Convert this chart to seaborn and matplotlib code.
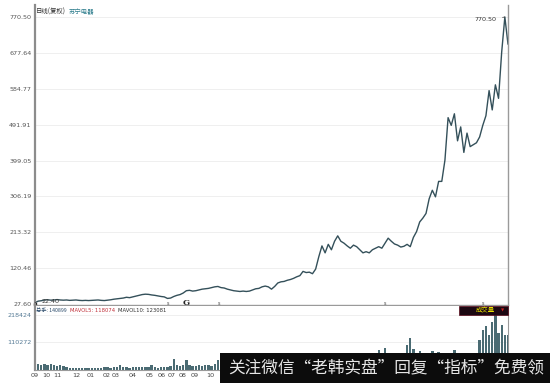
import matplotlib
matplotlib.use("Agg")
import matplotlib.pyplot as plt
import seaborn as sns
import pandas as pd
import numpy as np
from matplotlib.patches import Rectangle

# ---------------- data ----------------
close = [31, 35, 36, 38, 38.5, 37.5, 38, 39, 38, 37.5,
         38, 37, 37.5, 38, 37, 36.5, 37, 36.5, 37, 37.5,
         38, 37, 36.5, 37.5, 38.5, 40, 41, 42, 43, 45,
         44, 46, 48, 50, 52, 53, 52.5, 51, 50, 48.5,
         47, 46, 42, 43, 47, 50, 52, 56, 62, 63,
         61, 62, 64, 66, 67, 68, 70, 72, 73, 70,
         69, 66, 64, 62, 61, 60, 61, 60, 61, 64,
         67, 68, 72, 74, 72, 66, 73, 82, 85, 86,
         89, 91, 94, 98, 101, 112, 109, 110, 106, 118,
         150, 178, 160, 182, 168, 190, 204, 190, 185, 178,
         172, 180, 176, 168, 160, 163, 160, 168, 172, 176,
         172, 185, 198, 190, 183, 180, 175, 177, 182, 176,
         200, 215, 240, 250, 262, 300, 322, 305, 345, 345,
         400, 510, 490, 520, 450, 486, 420, 470, 435, 440,
         445, 460, 490, 515, 580, 530, 595, 560, 680, 770.5,
         700]

volume = [30000, 25000, 22000, 26000, 20000, 24000, 22000, 18000, 20000, 15000,
          12000, 10000, 9000, 8000, 9000, 7000, 8000, 9000, 10000, 8000,
          9000, 10000, 12000, 11000, 10000, 12000, 14000, 22000, 12000, 11000,
          10000, 12000, 11000, 13000, 12000, 14000, 13000, 22000, 12000, 10000,
          11000, 12000, 13000, 18000, 45000, 20000, 18000, 22000, 40000, 20000,
          18000, 16000, 20000, 18000, 22000, 20000, 18000, 26000, 40000, 22000,
          20000, 18000, 20000, 22000, 19000, 18000, 20000, 21000, 22000, 24000,
          26000, 25000, 28000, 30000, 26000, 28000, 32000, 35000, 30000, 28000,
          30000, 32000, 34000, 36000, 38000, 45000, 40000, 38000, 36000, 50000,
          60000, 55000, 50000, 52000, 48000, 55000, 58000, 45000, 40000, 38000,
          36000, 38000, 35000, 32000, 34000, 30000, 32000, 35000, 38000, 80000,
          40000, 90000, 60000, 45000, 42000, 40000, 38000, 45000, 100000, 128000,
          85000, 60000, 78000, 55000, 50000, 60000, 75000, 70000, 72000, 60000,
          65000, 62000, 58000, 80000, 55000, 50000, 52000, 48000, 50000, 45000,
          55000, 120000, 160000, 176000, 140000, 192000, 220000, 150000, 180000, 140000,
          140899]

price_ticks = [27.60, 120.46, 213.32, 306.19, 399.05, 491.91, 584.77, 677.64, 770.50]
vol_ticks = [110272, 218424]
month_pos = [0, 3.5, 7.0, 13.0, 17.8, 22.8, 25.7, 31.1, 36.2, 40.3, 43.4, 46.9, 50.7, 55.5]
month_labels = ["09", "10", "11", "12", "01", "02", "03", "04", "05", "06", "07", "08", "09", "10"]

df = pd.DataFrame({"idx": np.arange(len(close)), "close": close, "volume": volume})

# ---------------- figure ----------------
W, H = 550, 383
fig = plt.figure(figsize=(W / 100, H / 100), dpi=100)
sns.set_style("white")
plt.rcParams["font.family"] = ["DejaVu Sans"]
CJK = ["Noto Sans CJK SC", "DejaVu Sans"]

def rect(l, t, r, b):
    return [l / W, (H - b) / H, (r - l) / W, (b - t) / H]

ax = fig.add_axes(rect(35, 5, 508, 305))
axv = fig.add_axes(rect(35, 306, 508, 370))

line_col = "#34505a"
sns.lineplot(data=df, x="idx", y="close", ax=ax, color=line_col, linewidth=1.0)
ax.set_xlim(0, 150)
ax.set_ylim(25.0, 801.6)
ax.set_yticks(price_ticks)
ax.set_yticklabels([f"{v:.2f}" for v in price_ticks])
ax.set_xticks([])
ax.set_xlabel("")
ax.set_ylabel("")
for v in price_ticks[1:]:
    ax.axhline(v, color="#ececec", lw=0.6, zorder=0)
ax.tick_params(axis="y", labelsize=4.6, colors="#555555", length=1.5, pad=1)
ax.spines["top"].set_visible(False)
ax.spines["left"].set_color("#8c8c8c")
ax.spines["left"].set_linewidth(1.6)
ax.spines["right"].set_color("#9a9a9a")
ax.spines["right"].set_linewidth(1.0)
ax.spines["bottom"].set_color("#9a9a9a")
ax.spines["bottom"].set_linewidth(1.0)

# annotations
ax.annotate("770.50", xy=(149, 770.5), xytext=(-6, -2), textcoords="offset points",
            ha="right", va="center", fontsize=4.6, color="#333333",
            arrowprops=dict(arrowstyle="-", color="#333333", lw=0.5))
ax.annotate("22.40", xy=(0, 31), xytext=(5, 1.0), textcoords="offset points",
            ha="left", va="center", fontsize=4.6, color="#333333",
            arrowprops=dict(arrowstyle="-", color="#333333", lw=0.5))
ax.plot([0], [28], marker="s", ms=2, color="#111111", clip_on=False)
for xi, lab in [(42.3, "s"), (58.3, "s"), (111.0, "s"), (142.1, "s")]:
    ax.text(xi, 30, lab, fontsize=3.5, color="#444444", ha="center", va="center")
ax.text(47.9, 31, "G", fontsize=6, fontweight="bold", family="DejaVu Serif",
        color="#222222", ha="center", va="center")

# title
fig.text(36 / W, 1 - 12 / H, "日线(复权)", fontsize=4.6, color="#333333", family=CJK, va="center")
fig.text(69 / W, 1 - 12 / H, "苏宁电器", fontsize=4.6, color="#2c7c8c", family=CJK, va="center")

# volume panel
sns.barplot(data=df, x="idx", y="volume", ax=axv, color="#4a6b73", saturation=1,
            width=0.75, linewidth=0)
axv.set_xlim(0, 150)
axv.set_ylim(0, 256400)
axv.set_yticks(vol_ticks)
axv.set_yticklabels([str(v) for v in vol_ticks])
axv.set_xticks(month_pos)
axv.set_xticklabels(month_labels)
axv.set_xlabel("")
axv.set_ylabel("")
for v in vol_ticks:
    axv.axhline(v, color="#ececec", lw=0.6, zorder=0)
axv.tick_params(axis="y", labelsize=4.6, colors="#557a95", length=1.5, pad=1)
axv.tick_params(axis="x", labelsize=4.6, colors="#444444", length=0, pad=2)
axv.spines["top"].set_visible(False)
axv.spines["left"].set_color("#8c8c8c")
axv.spines["left"].set_linewidth(1.6)
axv.spines["right"].set_color("#9a9a9a")
axv.spines["bottom"].set_color("#9a9a9a")

# volume info line, chained so pieces never overlap
renderer = fig.canvas.get_renderer()
xpos = 36
for txt, col, fam in [("总手: 140899", "#2a4a6a", CJK),
                      ("MAVOL5: 118074", "#c0303a", ["DejaVu Sans"]),
                      ("MAVOL10: 123081", "#333333", ["DejaVu Sans"])]:
    t = fig.text(xpos / W, 1 - 310.5 / H, txt, fontsize=3.8, color=col, family=fam, va="center")
    bb = t.get_window_extent(renderer=renderer)
    xpos += bb.width + 3

fig.patches.append(Rectangle((459 / W, 1 - 315 / H), 49 / W, 9 / H, transform=fig.transFigure,
                             facecolor="#1c0812", edgecolor="#5a0a1a", lw=0.5, zorder=5))
fig.text(485 / W, 1 - 310.5 / H, "成交量", fontsize=4.6, color="#e8e000", family=CJK,
         ha="center", va="center", zorder=6)
fig.text(503 / W, 1 - 310.5 / H, "▼", fontsize=3, color="#d02020", ha="center", va="center", zorder=6)

# watermark banner
fig.patches.append(Rectangle((220 / W, 0), 330 / W, 30 / H, transform=fig.transFigure,
                             facecolor="#0c0c0c", edgecolor="none", zorder=10))
fig.text(386.5 / W, 1 - 369 / H, "关注微信“老韩实盘”回复“指标”免费领", fontsize=12,
         color="#e6e6e6", family=CJK, ha="center", va="center", zorder=11)

fig.savefig("out.png", dpi=100)
